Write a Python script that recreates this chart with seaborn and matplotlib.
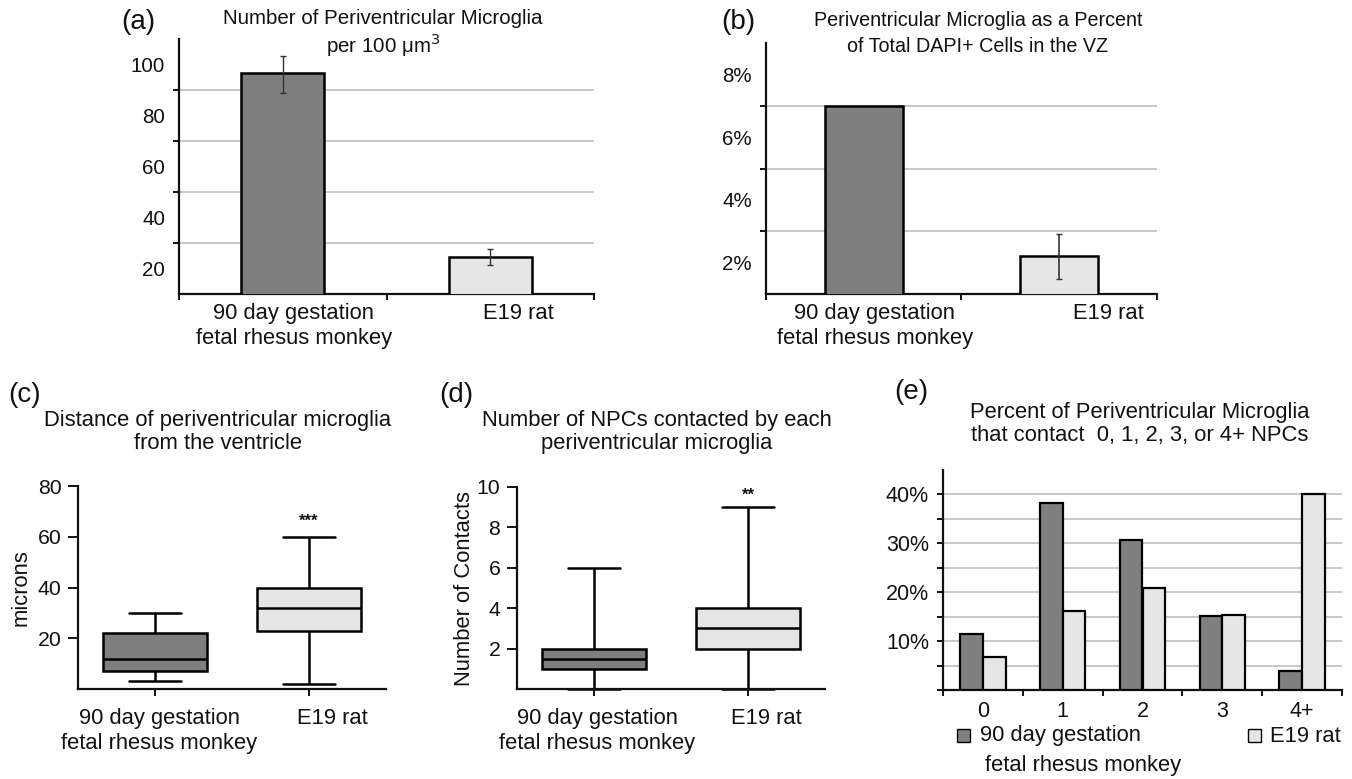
import matplotlib
matplotlib.use("Agg")
import matplotlib.pyplot as plt
import seaborn as sns
import pandas as pd
from matplotlib.patches import Rectangle

# ---------------- data ----------------
groups = ["90 day gestation\nfetal rhesus monkey", "E19 rat"]

# (a) number per 100 um^3
density_vals = [96.5, 24.7]
density_err_low = [89.0, 21.2]
density_err_high = [103.5, 27.8]
density_ticks = [20, 40, 60, 80, 100]

# (b) percent of DAPI+ cells
pct_vals = [7.0, 2.22]
pct_err_low = [None, 1.47]
pct_err_high = [None, 2.92]
pct_ticks = [2, 4, 6, 8]

# (c) distance from ventricle (min, q1, median, q3, max)
dist_monkey = [3, 7, 12, 22, 30]
dist_rat = [2, 23, 32, 40, 60]

# (d) number of contacts (min, q1, median, q3, max)
cont_monkey = [0, 1, 1.5, 2, 6]
cont_rat = [0, 2, 3, 4, 9]

# (e) percent contacting 0,1,2,3,4+
contact_cats = ["0", "1", "2", "3", "4+"]
monkey_pct = [11.5, 38.3, 30.6, 15.2, 3.9]
rat_pct = [6.8, 16.1, 20.9, 15.4, 40.1]

series_names = ["90 day gestation", "E19 rat"]

DARK = "#7f7f7f"
LIGHT = "#e6e6e6"
GRID = "#c4c4c4"
INK = "#111111"

sns.set_theme(style="ticks")
plt.rcParams["font.family"] = ["Liberation Sans", "DejaVu Sans"]
plt.rcParams.update({
    "axes.linewidth": 1.6,
    "xtick.major.width": 1.4,
    "ytick.major.width": 1.4,
    "text.color": INK,
    "axes.labelcolor": INK,
    "axes.edgecolor": INK,
    "xtick.color": INK,
    "ytick.color": INK,
})

W, H = 1352, 779
fig = plt.figure(figsize=(W / 100, H / 100), dpi=100)


def px_axes(l, t, r, b):
    return fig.add_axes([l / W, 1 - b / H, (r - l) / W, (b - t) / H])


def ftext(x, y, s, **kw):
    fig.text(x / W, 1 - y / H, s, **kw)


XLFS = 15.8
LETFS = 20


def cat_labels(ax, labels, offsets, dy):
    for i, (lab, dx) in enumerate(zip(labels, offsets)):
        ax.annotate(lab, xy=(i, 0), xycoords=("data", "axes fraction"),
                    xytext=(dx, -dy), textcoords="offset pixels",
                    ha="center", va="top", fontsize=XLFS, linespacing=1.27,
                    annotation_clip=False)


# ---------------- (a) ----------------
axa = px_axes(179, 39, 594, 294)
dfa = pd.DataFrame({"group": groups, "val": density_vals})
sns.barplot(data=dfa, x="group", y="val", hue="group", palette=[DARK, LIGHT],
            legend=False, width=0.4, edgecolor="black", linewidth=1.8,
            errorbar=None, ax=axa, zorder=3)
axa.errorbar([0, 1], density_vals,
             yerr=[[v - lo for v, lo in zip(density_vals, density_err_low)],
                   [hi - v for v, hi in zip(density_vals, density_err_high)]],
             fmt="none", ecolor="#333333", elinewidth=1.0, capsize=2.5, zorder=4)
axa.set_ylim(10, 110)
axa.set_xlim(-0.5, 1.5)
axa.set_yticks([30, 50, 70, 90])
axa.set_yticklabels([])
axa.set_yticks(density_ticks, [str(t) for t in density_ticks], minor=True)
axa.set_xticks([-0.5, 0.5, 1.5])
axa.set_xticklabels([])
axa.tick_params(which="major", length=4, direction="out")
axa.tick_params(axis="y", which="minor", length=0, labelsize=14.8, pad=10)
axa.tick_params(axis="x", which="minor", length=0)
axa.yaxis.grid(True, which="major", color=GRID, lw=1.3)
axa.set_axisbelow(True)
axa.set_xlabel("")
axa.set_ylabel("")
sns.despine(ax=axa)
cat_labels(axa, groups, [11, 28], 9)
ftext(383, 18, "Number of Periventricular Microglia", ha="center", va="center", fontsize=14.8)
ftext(383, 45, "per 100 μm$^3$", ha="center", va="center", fontsize=14.8)
ftext(138, 22, "(a)", ha="center", va="center", fontsize=LETFS)

# ---------------- (b) ----------------
axb = px_axes(766, 43, 1157, 294)
dfb = pd.DataFrame({"group": groups, "val": pct_vals})
sns.barplot(data=dfb, x="group", y="val", hue="group", palette=[DARK, LIGHT],
            legend=False, width=0.4, edgecolor="black", linewidth=1.8,
            errorbar=None, ax=axb, zorder=3)
axb.errorbar([1], [pct_vals[1]],
             yerr=[[pct_vals[1] - pct_err_low[1]], [pct_err_high[1] - pct_vals[1]]],
             fmt="none", ecolor="#333333", elinewidth=1.2, capsize=2.5, zorder=4)
axb.set_ylim(1, 9)
axb.set_xlim(-0.5, 1.5)
axb.set_yticks([3, 5, 7])
axb.set_yticklabels([])
axb.set_yticks(pct_ticks, [f"{t}%" for t in pct_ticks], minor=True)
axb.set_xticks([-0.5, 0.5, 1.5])
axb.set_xticklabels([])
axb.tick_params(which="major", length=4, direction="out")
axb.tick_params(axis="y", which="minor", length=0, labelsize=14.8, pad=10)
axb.tick_params(axis="x", which="minor", length=0)
axb.yaxis.grid(True, which="major", color=GRID, lw=1.3)
axb.set_axisbelow(True)
axb.set_xlabel("")
axb.set_ylabel("")
sns.despine(ax=axb)
cat_labels(axb, groups, [11, 49], 9)
ftext(978, 20, "Periventricular Microglia as a Percent", ha="center", va="center", fontsize=14.2)
ftext(978, 47, "of Total DAPI+ Cells in the VZ", ha="center", va="center", fontsize=14.2)
ftext(738, 22, "(b)", ha="center", va="center", fontsize=LETFS)


# ---------------- boxplots ----------------
def boxpanel(ax, mvals, rvals, ylim, yticks, ylabel, stars, star_y, offsets, labelpad):
    df = pd.DataFrame({"group": [groups[0]] * len(mvals) + [groups[1]] * len(rvals),
                       "val": list(mvals) + list(rvals)})
    sns.boxplot(data=df, x="group", y="val", hue="group", palette=[DARK, LIGHT],
                legend=False, whis=(0, 100), width=0.67, linecolor="black",
                linewidth=1.8, ax=ax)
    for ln in ax.lines:
        ln.set_clip_on(False)
    ax.set_xlim(-0.5, 1.5)
    ax.set_ylim(*ylim)
    ax.set_yticks(yticks)
    ax.set_xticks([0, 1])
    ax.set_xticklabels([])
    ax.tick_params(axis="y", length=7, labelsize=15.3, pad=5)
    ax.tick_params(axis="x", length=5)
    ax.set_xlabel("")
    ax.set_ylabel(ylabel, fontsize=XLFS, labelpad=labelpad)
    sns.despine(ax=ax)
    cat_labels(ax, groups, offsets, 19)
    ax.text(1, star_y, stars, ha="center", va="center", fontsize=12, fontweight="bold")


TFS2 = 15.8
axc = px_axes(78, 486, 386, 689)
boxpanel(axc, dist_monkey, dist_rat, (0, 80), [20, 40, 60, 80], "microns", "***", 66,
         [4, 23], 4)
ftext(218, 432, "Distance of periventricular microglia\nfrom the ventricle", ha="center",
      va="center", fontsize=TFS2, linespacing=1.15)
ftext(25, 395, "(c)", ha="center", va="center", fontsize=LETFS)

axd = px_axes(517, 487, 825, 689)
boxpanel(axd, cont_monkey, cont_rat, (0, 10), [2, 4, 6, 8, 10], "Number of Contacts", "**", 9.6,
         [3, 18], 1)
ftext(657, 432, "Number of NPCs contacted by each\nperiventricular microglia", ha="center",
      va="center", fontsize=TFS2, linespacing=1.15)
ftext(456, 395, "(d)", ha="center", va="center", fontsize=LETFS)

# ---------------- (e) ----------------
axe = px_axes(943, 470, 1342, 690)
dfe = pd.DataFrame({
    "contacts": contact_cats * 2,
    "pct": monkey_pct + rat_pct,
    "series": [series_names[0]] * len(contact_cats) + [series_names[1]] * len(contact_cats),
})
sns.barplot(data=dfe, x="contacts", y="pct", hue="series", palette=[DARK, LIGHT],
            width=0.57, edgecolor="black", linewidth=1.6, errorbar=None,
            legend=False, ax=axe, zorder=3)
axe.set_xlim(-0.5, 4.5)
axe.set_ylim(0, 45)
axe.set_yticks(range(0, 45, 5))
axe.set_yticklabels(["" if t % 10 or t == 0 else f"{t}%" for t in range(0, 45, 5)])
axe.set_xticks([i - 0.5 for i in range(6)])
axe.set_xticklabels([])
axe.set_xticks(range(5), contact_cats, minor=True)
axe.tick_params(which="major", length=4, direction="out", labelsize=15.5, pad=6)
axe.tick_params(which="minor", length=0, labelsize=15.5, pad=8)
axe.yaxis.grid(True, which="major", color=GRID, lw=1.3)
axe.set_axisbelow(True)
axe.set_xlabel("")
axe.set_ylabel("")
sns.despine(ax=axe)
ftext(1140, 424, "Percent of Periventricular Microglia\nthat contact  0, 1, 2, 3, or 4+ NPCs",
      ha="center", va="center", fontsize=TFS2, linespacing=1.15)
ftext(911, 392, "(e)", ha="center", va="center", fontsize=LETFS)

# legend for (e)
sq = 13
for (x, y), col in zip([(963, 735), (1254, 735)], [DARK, LIGHT]):
    fig.add_artist(Rectangle(((x - sq / 2) / W, 1 - (y + sq / 2) / H), sq / W, sq / H,
                             transform=fig.transFigure, facecolor=col,
                             edgecolor="black", lw=1.0))
ftext(980, 736, "90 day gestation", ha="left", va="center", fontsize=XLFS)
ftext(1270, 736, "E19 rat", ha="left", va="center", fontsize=XLFS)
ftext(1083, 766, "fetal rhesus monkey", ha="center", va="center", fontsize=XLFS)

fig.savefig("out.png", dpi=100, facecolor="white")
